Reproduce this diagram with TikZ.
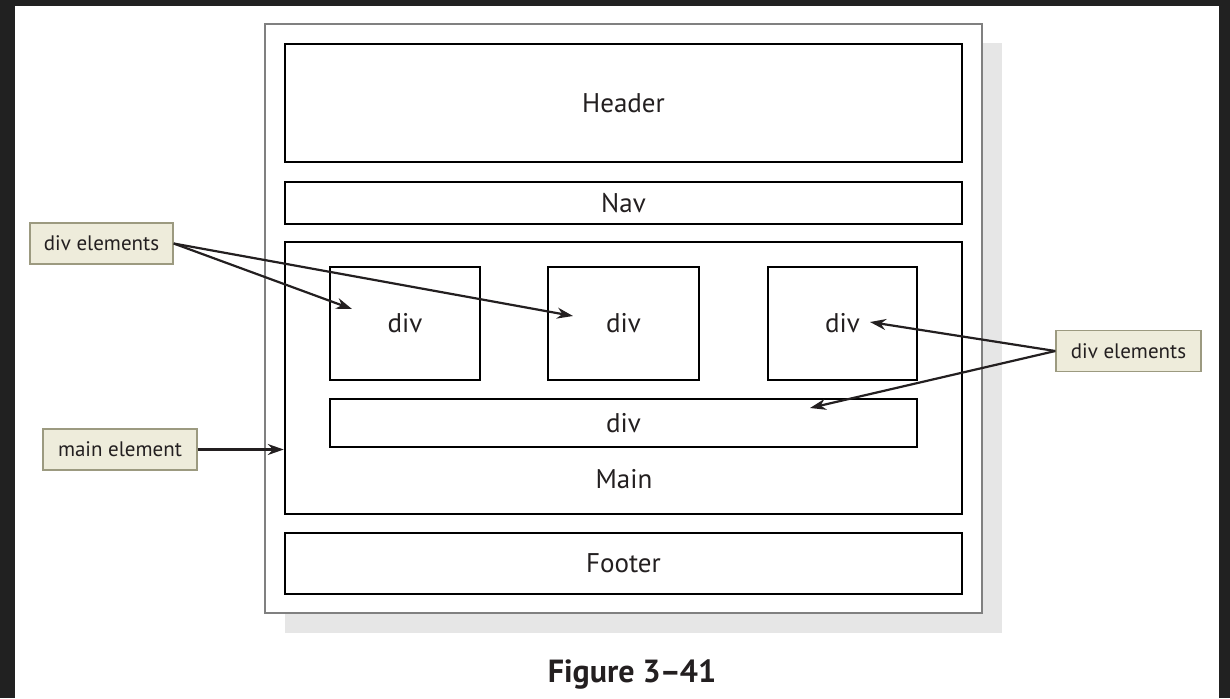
\documentclass[tikz,border=0pt]{standalone}
\usepackage{fontspec}
\setmainfont{PT Sans}
\usetikzlibrary{arrows.meta}

\definecolor{framegray}{RGB}{33,33,33}
\definecolor{shadowgray}{RGB}{230,230,230}
\definecolor{notefill}{RGB}{238,236,219}
\definecolor{noteline}{RGB}{156,154,128}
\definecolor{inkgray}{RGB}{35,31,32}

\begin{document}
\begin{tikzpicture}[x=0.5pt, y=-0.5pt,
    block/.style={draw=black, line width=1.25pt, inner sep=0pt, text=inkgray,
        font=\fontsize{13.5}{15}\selectfont},
    note/.style={draw=noteline, fill=notefill, line width=0.7pt, inner sep=0pt,
        minimum height=20.5pt, text=inkgray, font=\fontsize{10.5}{12}\selectfont},
    pointer/.style={draw=inkgray, line width=1.1pt, -{Stealth[length=8pt, width=5.5pt]}}]
    % Dark frame and page
    \fill[framegray] (0,0) rectangle (1230,698);
    \fill[white] (15,6) rectangle (1219,698);
    \useasboundingbox (0,0) rectangle (1230,698);

    % Shadow and outer box
    \fill[shadowgray] (285,43) rectangle (1002,633);
    \node[draw=gray, fill=white, line width=0.75pt, inner sep=0pt,
        minimum width=358.5pt, minimum height=294.5pt] (page) at (623.5,318.5) {};

    % Page sections
    \node[block, minimum width=338.5pt, minimum height=59pt] (header) at (623.5,103) {Header};
    \node[block, minimum width=338.5pt, minimum height=21pt] (nav) at (623.5,203) {Nav};
    \node[block, minimum width=338.5pt, minimum height=136pt] (main) at (623.5,378) {};
    \node[block, minimum width=338.5pt, minimum height=30.5pt] (footer) at (623.5,563.5) {Footer};
    \node[text=inkgray, font=\fontsize{13.5}{15}\selectfont] (mainlbl) at (624,479) {Main};

    % div boxes inside main
    \node[block, minimum width=75pt, minimum height=56.5pt] (divA) at (405,323.5) {div};
    \node[block, minimum width=75.5pt, minimum height=56.5pt] (divB) at (623.5,323.5) {div};
    \node[block, minimum width=74.5pt, minimum height=56.5pt] (divC) at (842.5,323.5) {div};
    \node[block, minimum width=293.5pt, minimum height=24pt] (divD) at (623.5,423) {div};

    % Arrow targets
    \coordinate (tipA) at (352,309);
    \coordinate (tipB) at (573,316);
    \coordinate (tipC) at (870,322);
    \coordinate (tipD) at (810,408);

    % Callouts
    \node[note, minimum width=71.5pt] (divsL) at (101.5,243.5) {div elements};
    \node[note, minimum width=77pt] (mainnote) at (120,449.5) {main element};
    \node[note, minimum width=72.5pt] (divsR) at (1128.5,351) {div elements};

    \draw[pointer] (divsL.east) -- (tipA);
    \draw[pointer] (divsL.east) -- (tipB);
    \draw[pointer] (divsR.west) -- (tipC);
    \draw[pointer] (divsR.west) -- (tipD);
    \draw[pointer] (mainnote.east) -- (mainnote.east -| main.west);

    % Caption
    \node[font=\fontsize{16}{19}\selectfont\bfseries, text=inkgray] (caption) at (632,674) {Figure 3{\kern-0.5pt}--{\kern-0.5pt}41};
\end{tikzpicture}
\end{document}
